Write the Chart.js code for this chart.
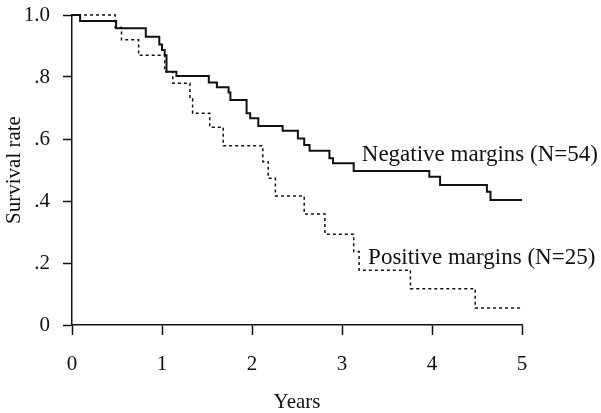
<!DOCTYPE html>
<html>
<head>
<meta charset="utf-8">
<script src="https://cdn.jsdelivr.net/npm/chart.js@4.4.1/dist/chart.umd.min.js"></script>
<style>
  body { margin: 0; background: #fff; }
</style>
</head>
<body>
<canvas id="chart" width="601" height="413"></canvas>
<script>
// Kaplan-Meier curves (time in years, survival rate)
const negTimes = [0, 0.09, 0.49, 0.82, 0.97, 1.00, 1.03, 1.05, 1.16, 1.52, 1.61, 1.74, 1.76, 1.94, 1.98, 2.07, 2.34, 2.51, 2.58, 2.64, 2.86, 2.90, 3.13, 3.97, 4.09, 4.61, 4.65, 5.0]
const negSurvival = [1.0, 0.981, 0.957, 0.93, 0.905, 0.887, 0.870, 0.817, 0.803, 0.782, 0.767, 0.750, 0.726, 0.683, 0.667, 0.642, 0.627, 0.602, 0.581, 0.562, 0.538, 0.522, 0.497, 0.478, 0.452, 0.43, 0.403, 0.403]

const posTimes = [0, 0.48, 0.55, 0.74, 1.03, 1.12, 1.31, 1.34, 1.53, 1.68, 2.12, 2.18, 2.26, 2.58, 2.81, 3.13, 3.19, 3.76, 4.48, 5.0]
const posSurvival = [1.0, 0.96, 0.92, 0.87, 0.817, 0.78, 0.73, 0.683, 0.638, 0.578, 0.527, 0.473, 0.416, 0.358, 0.293, 0.237, 0.177, 0.117, 0.055, 0.055]

const yTickValues = [0, 0.2, 0.4, 0.6, 0.8, 1.0]
const yTickLabels = ['0', '.2', '.4', '.6', '.8', '1.0']

const curveLabels = ['Negative margins (N=54)', 'Positive margins (N=25)']
const curveLabelAt = [[3.22, 0.548], [3.29, 0.216]]

const serif = 'Liberation Serif'

function toPoints(times, values) {
    return times.map((t, i) => ({x: t, y: values[i]}))
}

// writes the two curve names next to the lines
const curveNames = {
    id: 'curveNames',
    afterDatasetsDraw(chart) {
        let ctx = chart.ctx
        let xs = chart.scales.x
        let ys = chart.scales.y
        ctx.save()
        ctx.fillStyle = '#111'
        ctx.font = '23px "' + serif + '"'
        ctx.textAlign = 'left'
        ctx.textBaseline = 'middle'
        curveLabels.forEach((txt, i) => {
            let pos = curveLabelAt[i]
            ctx.fillText(txt, xs.getPixelForValue(pos[0]), ys.getPixelForValue(pos[1]))
        })
        ctx.restore()
    }
}

new Chart(document.getElementById('chart'), {
    type: 'line',
    data: {
        datasets: [
            {
                label: curveLabels[0],
                data: toPoints(negTimes, negSurvival),
                borderColor: '#111',
                borderWidth: 2,
                stepped: true,
                pointRadius: 0,
                clip: 4
            },
            {
                label: curveLabels[1],
                data: toPoints(posTimes, posSurvival),
                borderColor: '#111',
                borderWidth: 1.5,
                borderDash: [3, 3],
                stepped: true,
                pointRadius: 0,
                clip: 4
            }
        ]
    },
    options: {
        responsive: false,
        animation: false,
        devicePixelRatio: 1,
        layout: {padding: {left: 0, right: 79, top: 15, bottom: 0}},
        plugins: {
            legend: {display: false},
            tooltip: {enabled: false}
        },
        scales: {
            x: {
                type: 'linear',
                min: 0,
                max: 5,
                afterFit: scale => {
                    scale.height = 88
                    scale.paddingLeft = 0
                    scale.paddingRight = 0
                },
                ticks: {
                    stepSize: 1,
                    color: '#111',
                    padding: 17,
                    font: {family: serif, size: 21}
                },
                grid: {drawOnChartArea: false, tickLength: 10, tickWidth: 1.5, tickColor: '#111'},
                border: {color: '#111', width: 1.5},
                title: {
                    display: true,
                    text: 'Years',
                    color: '#111',
                    padding: {top: 0, bottom: 0},
                    font: {family: serif, size: 21, lineHeight: 1}
                }
            },
            y: {
                min: 0,
                max: 1,
                afterFit: scale => {
                    scale.width = 72
                    scale.paddingTop = 0
                    scale.paddingBottom = 0
                },
                afterBuildTicks: scale => {
                    scale.ticks = yTickValues.map(v => ({value: v}))
                },
                ticks: {
                    color: '#111',
                    padding: 13,
                    font: {family: serif, size: 21},
                    callback: value => yTickLabels[yTickValues.indexOf(value)]
                },
                grid: {drawOnChartArea: false, tickLength: 9, tickWidth: 1.5, tickColor: '#111'},
                border: {color: '#111', width: 1.5},
                title: {
                    display: true,
                    text: 'Survival rate',
                    color: '#111',
                    padding: {top: 4, bottom: 0},
                    font: {family: serif, size: 21, lineHeight: 1}
                }
            }
        }
    },
    plugins: [curveNames]
})
</script>
</body>
</html>
